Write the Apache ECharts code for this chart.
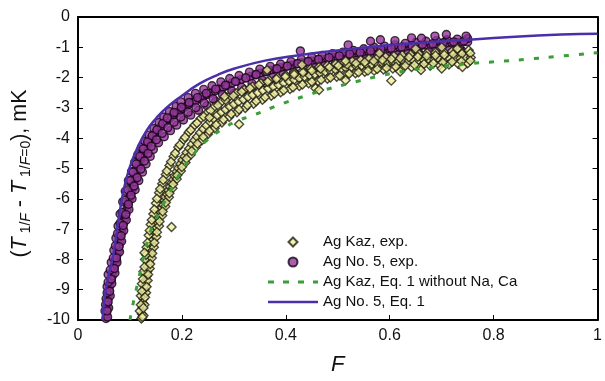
<!DOCTYPE html>
<html>
<head>
<meta charset="utf-8">
<script src="https://cdn.jsdelivr.net/npm/echarts/dist/echarts.min.js"></script>
<style>
html,body{margin:0;padding:0;background:#fff;}
#chart{width:605px;height:381px;}
</style>
</head>
<body>
<div id="chart"></div>
<script>
// ---- Data ----
const xTicks = [0, 0.2, 0.4, 0.6, 0.8, 1];
const yTicks = [0, -1, -2, -3, -4, -5, -6, -7, -8, -9, -10];

const seriesNames = ['Ag Kaz, exp.', 'Ag No. 5, exp.', 'Ag Kaz, Eq. 1 without Na, Ca', 'Ag No. 5, Eq. 1'];

// Ag No. 5, exp. (F, T diff mK)
const agNo5Exp = [
[0.054,-9.95],[0.055,-9.8],[0.056,-9.6],[0.057,-9.45],[0.058,-9.3],[0.059,-9.15],[0.060,-9.0],[0.061,-8.85],[0.064,-8.7],[0.066,-8.55],
[0.068,-8.4],[0.069,-8.3],[0.072,-8.15],[0.074,-8.0],[0.075,-7.85],[0.078,-7.7],[0.079,-7.55],[0.081,-7.4],[0.082,-7.25],[0.084,-7.1],
[0.086,-6.95],[0.088,-6.8],[0.090,-6.65],[0.092,-6.5],[0.094,-6.35],[0.096,-6.2],[0.098,-6.05],[0.100,-5.95],[0.102,-5.8],[0.104,-5.7],
[0.106,-5.58],[0.108,-5.45],[0.110,-5.3],[0.112,-5.2],[0.114,-5.05],[0.116,-4.95],[0.118,-4.85],[0.120,-4.75],[0.122,-4.62],[0.124,-4.52],
[0.127,-4.42],[0.130,-4.33],[0.132,-4.25],[0.135,-4.16],[0.138,-4.08],[0.141,-3.99],[0.145,-3.9],[0.149,-3.82],[0.153,-3.73],[0.157,-3.66],
[0.161,-3.58],[0.165,-3.51],[0.170,-3.43],[0.175,-3.36],[0.180,-3.29],[0.185,-3.22],[0.190,-3.16],[0.196,-3.09],[0.202,-3.02],[0.208,-2.95],
[0.214,-2.88],[0.220,-2.82],[0.227,-2.76],[0.234,-2.69],[0.241,-2.62],[0.248,-2.56],[0.256,-2.5],[0.264,-2.44],[0.272,-2.38],[0.280,-2.32],
[0.288,-2.26],[0.296,-2.18],[0.305,-2.12],[0.314,-2.06],[0.323,-2.01],[0.332,-1.96],[0.341,-1.91],[0.350,-1.86],[0.360,-1.81],[0.370,-1.76],
[0.380,-1.72],[0.390,-1.67],[0.400,-1.63],[0.410,-1.59],[0.420,-1.55],[0.430,-1.51],[0.440,-1.48],[0.450,-1.45],[0.460,-1.42],[0.470,-1.39],
[0.480,-1.36],[0.490,-1.33],[0.500,-1.3],[0.510,-1.27],[0.520,-1.25],[0.530,-1.22],[0.540,-1.2],[0.550,-1.17],[0.560,-1.15],[0.570,-1.13],
[0.580,-1.1],[0.590,-1.08],[0.600,-1.06],[0.610,-1.04],[0.620,-1.02],[0.630,-1.0],[0.640,-0.98],[0.650,-0.97],[0.660,-0.95],[0.670,-0.93],
[0.680,-0.92],[0.690,-0.9],[0.700,-0.89],[0.710,-0.87],[0.720,-0.86],[0.730,-0.85],[0.740,-0.83],[0.750,-0.82],
[0.052,-9.7],[0.054,-9.3],[0.056,-8.9],[0.058,-8.5],[0.064,-8.1],[0.069,-7.7],[0.073,-7.3],[0.077,-6.9],[0.081,-6.5],[0.086,-6.1],
[0.091,-5.75],[0.097,-5.4],[0.103,-5.1],[0.109,-4.8],[0.115,-4.55],[0.122,-4.3],[0.129,-4.1],[0.137,-3.9],[0.146,-3.68],[0.156,-3.48],
[0.165,-3.3],[0.176,-3.12],[0.189,-2.95],[0.198,-2.8],[0.212,-2.66],[0.226,-2.52],[0.242,-2.39],[0.258,-2.27],[0.275,-2.14],[0.292,-2.03],
[0.31,-1.93],[0.33,-1.82],[0.35,-1.72],[0.37,-1.63],[0.39,-1.55],[0.41,-1.47],[0.43,-1.4],[0.45,-1.33],[0.47,-1.27],[0.49,-1.21],
[0.51,-1.16],[0.53,-1.1],[0.55,-1.05],[0.57,-1.0],[0.59,-0.96],[0.61,-0.92],[0.63,-0.87],[0.65,-0.84],[0.67,-0.8],[0.69,-0.78],
[0.71,-0.75],[0.73,-0.73],[0.75,-0.71],
[0.057,-9.9],[0.059,-9.6],[0.062,-9.2],[0.065,-8.8],[0.071,-8.45],[0.075,-8.1],[0.080,-7.75],[0.084,-7.4],[0.088,-7.05],[0.093,-6.7],
[0.098,-6.35],[0.104,-6.0],[0.110,-5.7],[0.117,-5.4],[0.124,-5.12],[0.131,-4.85],[0.139,-4.6],[0.145,-4.37],[0.155,-4.15],[0.166,-3.95],
[0.178,-3.75],[0.19,-3.57],[0.203,-3.4],[0.217,-3.24],[0.232,-3.08],[0.248,-2.93],[0.265,-2.78],[0.283,-2.64],[0.30,-2.52],[0.32,-2.4],
[0.34,-2.28],[0.36,-2.17],[0.38,-2.07],[0.40,-1.98],[0.42,-1.9],[0.44,-1.82],[0.46,-1.75],[0.48,-1.68],[0.50,-1.62],[0.52,-1.56],
[0.54,-1.5],[0.56,-1.45],[0.58,-1.4],[0.60,-1.36],[0.62,-1.32],[0.64,-1.28],[0.66,-1.25],[0.68,-1.22],[0.70,-1.19],[0.72,-1.16],[0.74,-1.13],
[0.053,-9.5],[0.056,-9.1],[0.058,-8.75],[0.062,-8.35],[0.068,-7.95],[0.072,-7.55],[0.076,-7.15],[0.081,-6.8],[0.085,-6.45],[0.090,-6.05],
[0.096,-5.7],[0.101,-5.4],[0.106,-5.12],[0.112,-4.85],[0.119,-4.6],[0.126,-4.35],[0.134,-4.12],[0.143,-3.92],[0.152,-3.72],[0.163,-3.52],
[0.172,-3.33],[0.185,-3.15],[0.199,-2.98],[0.214,-2.82],[0.23,-2.66],[0.247,-2.52],[0.265,-2.38],[0.284,-2.25],[0.303,-2.13],[0.323,-2.01],
[0.343,-1.9],[0.363,-1.8],[0.383,-1.71],[0.403,-1.62],[0.423,-1.54],[0.443,-1.47],[0.463,-1.4],[0.483,-1.34],[0.503,-1.28],[0.523,-1.22],
[0.543,-1.17],[0.563,-1.12],[0.583,-1.07],[0.603,-1.03],[0.623,-0.99],[0.643,-0.95],[0.663,-0.91],[0.683,-0.88],[0.703,-0.85],[0.723,-0.82],[0.743,-0.79],
[0.056,-9.7],[0.058,-9.4],[0.061,-9.05],[0.064,-8.65],[0.070,-8.3],[0.074,-7.95],[0.079,-7.58],[0.083,-7.22],[0.087,-6.88],[0.092,-6.52],
[0.097,-6.18],[0.102,-5.88],[0.108,-5.58],[0.114,-5.3],[0.121,-5.02],[0.128,-4.75],[0.135,-4.5],[0.141,-4.27],[0.151,-4.05],[0.162,-3.84],
[0.173,-3.65],[0.185,-3.47],[0.198,-3.3],[0.212,-3.14],[0.227,-2.99],[0.243,-2.84],[0.26,-2.7],[0.278,-2.56],[0.296,-2.44],[0.315,-2.32],
[0.335,-2.2],[0.355,-2.09],[0.375,-1.99],[0.395,-1.9],[0.415,-1.82],[0.435,-1.74],[0.455,-1.67],[0.475,-1.6],[0.495,-1.54],[0.515,-1.48],
[0.535,-1.43],[0.555,-1.38],[0.575,-1.33],[0.595,-1.29],[0.615,-1.25],[0.635,-1.21],[0.655,-1.18],[0.675,-1.15],[0.695,-1.12],[0.715,-1.09],[0.735,-1.06],
[0.428,-1.12],[0.563,-0.8],[0.582,-0.75],[0.642,-0.69],[0.661,-0.7],[0.687,-0.63],[0.709,-0.58],[0.747,-0.63],[0.52,-0.92],[0.61,-0.78]
];

// Ag Kaz, exp.
const agKazExp = [
[0.122,-9.95],[0.123,-9.8],[0.124,-9.6],[0.125,-9.45],[0.126,-9.3],[0.127,-9.15],[0.128,-9.0],[0.129,-8.85],[0.130,-8.7],[0.132,-8.55],
[0.133,-8.4],[0.134,-8.25],[0.136,-8.1],[0.137,-7.95],[0.139,-7.8],[0.140,-7.65],[0.142,-7.5],[0.144,-7.35],[0.146,-7.2],[0.148,-7.05],
[0.150,-6.92],[0.152,-6.8],[0.154,-6.67],[0.156,-6.55],[0.158,-6.43],[0.161,-6.3],[0.163,-6.18],[0.166,-6.05],[0.168,-5.94],[0.171,-5.83],
[0.174,-5.72],[0.177,-5.6],[0.180,-5.48],[0.183,-5.36],[0.186,-5.24],[0.190,-5.1],[0.193,-4.98],[0.197,-4.85],[0.201,-4.72],[0.205,-4.6],
[0.209,-4.47],[0.214,-4.34],[0.219,-4.2],[0.224,-4.07],[0.229,-3.95],[0.235,-3.82],[0.241,-3.7],[0.247,-3.58],[0.254,-3.46],[0.261,-3.35],
[0.268,-3.24],[0.276,-3.14],[0.284,-3.05],[0.292,-2.96],[0.300,-2.88],[0.309,-2.8],[0.318,-2.72],[0.327,-2.64],[0.336,-2.57],[0.346,-2.5],
[0.356,-2.43],[0.366,-2.36],[0.376,-2.3],[0.386,-2.24],[0.396,-2.18],[0.406,-2.12],[0.416,-2.07],[0.426,-2.02],[0.436,-1.97],[0.446,-1.93],
[0.456,-1.89],[0.466,-1.85],[0.476,-1.81],[0.486,-1.77],[0.496,-1.74],[0.506,-1.71],[0.516,-1.68],[0.526,-1.65],[0.536,-1.63],[0.546,-1.6],
[0.556,-1.58],[0.566,-1.56],[0.576,-1.54],[0.586,-1.52],[0.596,-1.51],[0.606,-1.49],[0.616,-1.48],[0.626,-1.47],[0.636,-1.46],[0.646,-1.45],
[0.656,-1.44],[0.666,-1.43],[0.676,-1.42],[0.686,-1.41],[0.696,-1.4],[0.706,-1.39],[0.716,-1.38],[0.726,-1.37],[0.736,-1.36],[0.746,-1.35],[0.756,-1.34],
[0.119,-9.7],[0.121,-9.2],[0.123,-8.8],[0.126,-8.4],[0.129,-8.0],[0.132,-7.6],[0.136,-7.2],[0.140,-6.85],[0.145,-6.5],[0.150,-6.15],
[0.156,-5.8],[0.162,-5.5],[0.169,-5.2],[0.176,-4.9],[0.184,-4.6],[0.193,-4.3],[0.203,-4.05],[0.213,-3.8],[0.224,-3.57],[0.236,-3.35],
[0.249,-3.15],[0.262,-2.97],[0.276,-2.8],[0.29,-2.65],[0.305,-2.52],[0.32,-2.4],[0.336,-2.29],[0.352,-2.19],[0.368,-2.09],[0.384,-2.0],
[0.40,-1.92],[0.416,-1.84],[0.432,-1.77],[0.448,-1.71],[0.464,-1.65],[0.48,-1.6],[0.496,-1.55],[0.512,-1.5],[0.528,-1.46],[0.544,-1.42],
[0.56,-1.38],[0.576,-1.35],[0.592,-1.32],[0.608,-1.29],[0.624,-1.26],[0.64,-1.24],[0.656,-1.21],[0.672,-1.19],[0.688,-1.17],[0.704,-1.15],
[0.72,-1.13],[0.736,-1.11],[0.752,-1.1],
[0.126,-9.85],[0.128,-9.5],[0.131,-9.1],[0.134,-8.7],[0.138,-8.3],[0.142,-7.95],[0.146,-7.6],[0.151,-7.25],[0.156,-6.9],[0.162,-6.55],
[0.168,-6.25],[0.175,-5.95],[0.182,-5.65],[0.19,-5.35],[0.198,-5.08],[0.207,-4.8],[0.217,-4.55],[0.227,-4.3],[0.238,-4.08],[0.25,-3.87],
[0.263,-3.67],[0.277,-3.48],[0.291,-3.3],[0.306,-3.14],[0.322,-3.0],[0.338,-2.86],[0.355,-2.73],[0.372,-2.6],[0.39,-2.48],[0.408,-2.38],
[0.426,-2.28],[0.444,-2.19],[0.462,-2.11],[0.48,-2.04],[0.498,-1.97],[0.516,-1.91],[0.534,-1.86],[0.552,-1.81],[0.57,-1.77],[0.588,-1.73],
[0.606,-1.7],[0.624,-1.67],[0.642,-1.65],[0.66,-1.63],[0.678,-1.61],[0.696,-1.59],[0.714,-1.57],[0.732,-1.55],[0.75,-1.53],
[0.121,-9.5],[0.123,-9.05],[0.125,-8.65],[0.128,-8.25],[0.131,-7.85],[0.134,-7.45],[0.138,-7.05],[0.142,-6.7],[0.147,-6.35],[0.152,-6.0],
[0.158,-5.68],[0.164,-5.38],[0.171,-5.08],[0.179,-4.78],[0.187,-4.5],[0.196,-4.22],[0.206,-3.97],[0.217,-3.73],[0.229,-3.5],[0.242,-3.28],
[0.255,-3.09],[0.269,-2.91],[0.284,-2.74],[0.299,-2.6],[0.315,-2.47],[0.331,-2.35],[0.348,-2.24],[0.365,-2.14],[0.382,-2.05],[0.399,-1.97],
[0.416,-1.9],[0.433,-1.83],[0.45,-1.77],[0.467,-1.71],[0.484,-1.66],[0.501,-1.61],[0.518,-1.57],[0.535,-1.53],[0.552,-1.49],[0.569,-1.45],
[0.586,-1.42],[0.603,-1.39],[0.62,-1.36],[0.637,-1.33],[0.654,-1.31],[0.671,-1.29],[0.688,-1.27],[0.705,-1.25],[0.722,-1.23],[0.739,-1.21],[0.755,-1.2],
[0.124,-9.9],[0.126,-9.6],[0.129,-9.25],[0.132,-8.9],[0.135,-8.5],[0.139,-8.15],[0.143,-7.8],[0.147,-7.45],[0.152,-7.1],[0.157,-6.75],
[0.163,-6.42],[0.169,-6.12],[0.176,-5.82],[0.183,-5.52],[0.191,-5.22],[0.2,-4.95],[0.209,-4.68],[0.219,-4.42],[0.23,-4.18],[0.241,-3.96],
[0.253,-3.76],[0.266,-3.56],[0.28,-3.38],[0.295,-3.2],[0.31,-3.05],[0.326,-2.91],[0.343,-2.78],[0.36,-2.65],[0.378,-2.53],[0.396,-2.42],
[0.414,-2.32],[0.432,-2.23],[0.45,-2.14],[0.468,-2.07],[0.486,-2.0],[0.504,-1.93],[0.522,-1.87],[0.54,-1.82],[0.558,-1.77],[0.576,-1.72],
[0.594,-1.68],[0.612,-1.64],[0.63,-1.61],[0.648,-1.58],[0.666,-1.55],[0.684,-1.53],[0.702,-1.5],[0.72,-1.48],[0.738,-1.46],[0.755,-1.44],
[0.128,-7.78],[0.18,-6.93],[0.31,-3.54],[0.253,-3.32],[0.282,-2.62],[0.457,-2.35],[0.464,-2.41],[0.515,-2.09],[0.603,-2.1],
[0.364,-1.75],[0.431,-1.58],[0.515,-1.45],[0.58,-1.2],[0.65,-1.05],[0.70,-1.0],[0.73,-1.05],
[0.62,-1.8],[0.66,-1.75],[0.70,-1.7],[0.74,-1.65]
];

// Ag Kaz, Eq. 1 without Na, Ca (green dashed curve)
const agKazEq = [
[0.1,-10],[0.108,-9.3],[0.116,-8.7],[0.128,-7.8],[0.141,-7.0],[0.158,-6.4],[0.176,-5.8],[0.195,-5.2],[0.215,-4.7],[0.246,-4.1],
[0.278,-3.7],[0.304,-3.45],[0.336,-3.25],[0.387,-2.9],[0.438,-2.6],[0.476,-2.4],[0.527,-2.17],[0.572,-1.98],[0.63,-1.78],[0.694,-1.64],
[0.745,-1.55],[0.80,-1.48],[0.866,-1.39],[0.93,-1.29],[1.0,-1.18]
];

// Ag No. 5, Eq. 1 (solid purple curve)
const agNo5Eq = [
[0.047,-10],[0.052,-9.2],[0.058,-8.6],[0.068,-7.84],[0.078,-6.7],[0.088,-5.7],[0.1,-4.94],[0.115,-4.3],[0.132,-3.75],[0.15,-3.35],
[0.17,-3.0],[0.2,-2.6],[0.234,-2.2],[0.27,-1.9],[0.3,-1.71],[0.36,-1.44],[0.425,-1.26],[0.49,-1.12],[0.55,-1.01],[0.62,-0.9],
[0.7,-0.8],[0.76,-0.74],[0.85,-0.64],[0.93,-0.58],[1.0,-0.55]
];

// ---- Chart ----
const chart = echarts.init(document.getElementById('chart'), null, {renderer: 'canvas'});
const FONT = 'Liberation Sans, Arial, Helvetica, sans-serif';
const PURPLE_LINE = '#4a2fa8';
const GREEN = '#3a9e3a';

const option = {
  backgroundColor: '#ffffff',
  animation: false,
  grid: {left: 78, right: 5, top: 17, bottom: 54, containLabel: false},
  legend: {
    orient: 'vertical',
    left: 263, top: 229,
    itemWidth: 50, itemHeight: 9, itemGap: 4,
    symbolKeepAspect: true,
    textStyle: {fontFamily: FONT, fontSize: 15, color: '#111', lineHeight: 16},
    data: [
      {name: seriesNames[0], icon: 'path://M5,0L10,5L5,10L0,5Z'},
      {name: seriesNames[1], icon: 'circle'},
      {name: seriesNames[2], icon: 'path://M0,0h6v3h-6zM15,0h6v3h-6zM30,0h6v3h-6zM45,0h5v3h-5z',
        itemStyle: {color: GREEN, borderWidth: 0}},
      {name: seriesNames[3], icon: 'path://M0,0h50v2.5h-50z',
        itemStyle: {color: PURPLE_LINE, borderWidth: 0}}
    ]
  },
  xAxis: [{
    type: 'value', min: xTicks[0], max: xTicks[xTicks.length - 1], interval: 0.2,
    position: 'bottom',
    axisLine: {onZero: false, lineStyle: {color: '#000', width: 2}},
    axisTick: {inside: true, length: 5, lineStyle: {color: '#000', width: 1}},
    axisLabel: {fontFamily: FONT, fontSize: 16, color: '#111', margin: 8},
    splitLine: {show: false},
    name: 'F', nameLocation: 'middle', nameGap: 34,
    nameTextStyle: {fontFamily: FONT, fontSize: 22, fontStyle: 'italic', color: '#111'}
  }, {
    type: 'value', min: 0, max: 1, position: 'top',
    axisLine: {onZero: false, lineStyle: {color: '#000', width: 2}},
    axisTick: {show: false}, axisLabel: {show: false}, splitLine: {show: false}
  }],
  yAxis: [{
    type: 'value', min: yTicks[yTicks.length - 1], max: yTicks[0], interval: 1,
    position: 'left',
    axisLine: {onZero: false, lineStyle: {color: '#000', width: 2}},
    axisTick: {inside: true, length: 5, lineStyle: {color: '#000', width: 1}},
    axisLabel: {fontFamily: FONT, fontSize: 16, color: '#111', margin: 8},
    splitLine: {show: false},
    name: '{p|(}{t|T}{s| 1/}{si|F}{p| - }{t|T}{s| 1/}{si|F}{s|=0}{p|), mK}',
    nameLocation: 'middle', nameGap: 45,
    nameTextStyle: {
      fontFamily: FONT, color: '#111', padding: [0, 10, 0, 0],
      rich: {
        p: {fontFamily: FONT, fontSize: 21.5, lineHeight: 25, color: '#111'},
        t: {fontFamily: FONT, fontSize: 21.5, lineHeight: 25, fontStyle: 'italic', color: '#111'},
        s: {fontFamily: FONT, fontSize: 14, lineHeight: 17, verticalAlign: 'bottom', color: '#111'},
        si: {fontFamily: FONT, fontSize: 14, lineHeight: 17, verticalAlign: 'bottom', fontStyle: 'italic', color: '#111'}
      }
    }
  }, {
    type: 'value', min: -10, max: 0, interval: 1, position: 'right',
    axisLine: {onZero: false, lineStyle: {color: '#000', width: 2}},
    axisTick: {inside: true, length: 5, lineStyle: {color: '#000', width: 1}},
    axisLabel: {show: false}, splitLine: {show: false}
  }],
  series: [
    {
      name: seriesNames[1], type: 'scatter', data: agNo5Exp,
      symbol: 'circle', symbolSize: 8,
      itemStyle: {color: '#93379a', borderColor: '#140514', borderWidth: 1.4},
      z: 2
    },
    {
      name: seriesNames[0], type: 'scatter', data: agKazExp,
      symbol: 'diamond', symbolSize: 9,
      itemStyle: {color: '#efee9c', borderColor: '#1e1e10', borderWidth: 1.4},
      z: 3
    },
    {
      name: seriesNames[2], type: 'line', data: agKazEq, smooth: true,
      symbol: 'none', showSymbol: false,
      lineStyle: {color: GREEN, width: 3, type: [5, 10]},
      itemStyle: {color: GREEN},
      z: 4
    },
    {
      name: seriesNames[3], type: 'line', data: agNo5Eq, smooth: true,
      symbol: 'none', showSymbol: false,
      lineStyle: {color: PURPLE_LINE, width: 2.5},
      itemStyle: {color: PURPLE_LINE},
      z: 5
    }
  ]
};
chart.setOption(option);
</script>
</body>
</html>
